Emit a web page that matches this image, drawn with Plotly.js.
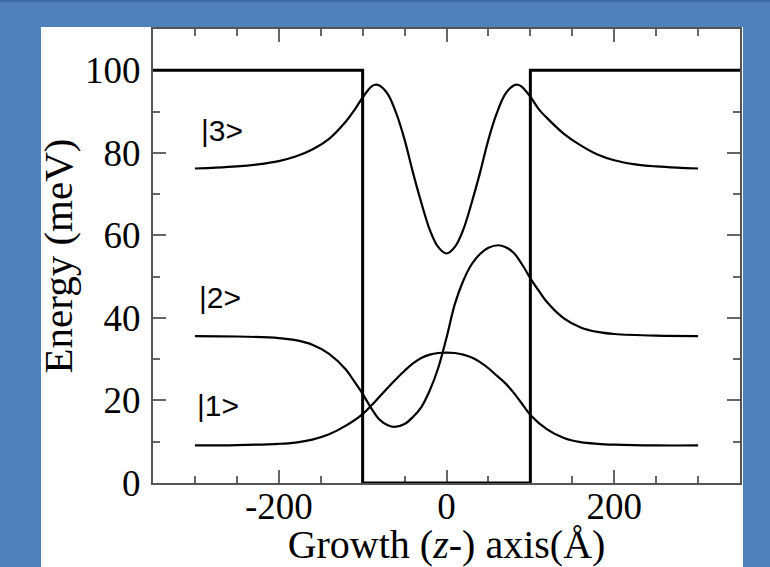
<!DOCTYPE html>
<html>
<head>
<meta charset="utf-8">
<script src="https://cdn.plot.ly/plotly-3.0.1.min.js"></script>
<style>html,body{margin:0;padding:0;}#chart{width:770px;height:567px;}</style>
</head>
<body>
<div id="chart"></div>
<script>
// Potential profile (meV)
const xPot = [-350, -100, -100, 100, 100, 350];
const yPot = [100, 100, 0, 0, 100, 100];

// |1> state
const x1 = [-300,-250,-200,-180,-160,-140,-120,-100,-90,-80,-70,-60,-50,-40,-30,-20,-10,0,10,20,30,40,50,60,70,80,90,100,120,140,160,180,200,250,300];
const y1 = [9.1,9.2,9.5,9.8,10.5,11.8,13.9,16.7,18.7,20.9,23.1,25.2,27.2,29.0,30.3,31.1,31.5,31.6,31.5,31.1,30.4,29.3,27.8,26.0,24.2,21.9,19.2,16.5,13.0,10.9,9.9,9.5,9.3,9.1,9.1];

// |2> state
const x2 = [-300,-250,-200,-180,-160,-140,-120,-110,-100,-90,-80,-70,-62,-50,-40,-30,-20,-10,0,10,20,30,40,50,62,70,80,90,100,110,120,140,160,180,200,250,300];
const y2 = [35.6,35.5,35.1,34.6,33.5,31.3,27.5,24.6,21.6,18.2,15.4,14.0,13.6,14.3,16.0,18.4,22.4,27.8,35.2,43.4,49.0,53.0,55.5,57.0,57.6,57.2,55.8,53.0,49.6,46.6,43.8,39.9,37.7,36.6,36.1,35.7,35.6];

// |3> state
const x3 = [-300,-275,-250,-225,-200,-180,-160,-140,-120,-110,-100,-90,-85,-80,-70,-60,-50,-40,-30,-20,-10,0,10,20,30,40,50,60,70,80,85,90,100,110,120,140,160,180,200,225,250,275,300];
const y3 = [76.2,76.4,76.7,77.2,78.0,79.1,80.8,83.4,87.6,90.3,93.4,96.0,96.5,96.3,94.2,89.6,83.2,75.2,67.9,61.4,57.2,55.6,57.2,61.4,67.9,75.2,83.2,89.6,94.2,96.3,96.5,96.0,93.6,90.6,88.4,84.6,81.8,79.6,78.2,77.2,76.7,76.4,76.2];

// Tick labels
const xTickVals = [-200, 0, 200];
const xTickText = ['-200', '0', '200'];

// State labels
const labelText = ['|3>', '|2>', '|1>'];
const labelX = [-295, -297, -300];
const labelY = [85.5, 45, 18.8];

const curveLine = {color: '#000', width: 2.2, shape: 'spline', smoothing: 1};
const traces = [
  {x: xPot, y: yPot, mode: 'lines', line: {color: '#000', width: 3}, hoverinfo: 'skip'},
  {x: x1, y: y1, mode: 'lines', line: curveLine, name: '|1>'},
  {x: x2, y: y2, mode: 'lines', line: curveLine, name: '|2>'},
  {x: x3, y: y3, mode: 'lines', line: curveLine, name: '|3>'}
];

const serif = 'Liberation Serif, Times New Roman, serif';
const axisCommon = {
  showgrid: false, zeroline: false, layer: 'below traces',
  showline: true, linecolor: '#555', linewidth: 2, mirror: 'allticks',
  ticks: 'inside', ticklen: 13, tickwidth: 2, tickcolor: '#666',
  tickfont: {family: serif, size: 37, color: '#000'}
};

const layout = {
  width: 770, height: 567,
  margin: {l: 153, r: 30, t: 29, b: 84},
  paper_bgcolor: '#4f81bd',
  plot_bgcolor: '#ffffff',
  showlegend: false,
  xaxis: Object.assign({}, axisCommon, {
    range: [-350, 350], tickmode: 'array', tickvals: xTickVals, ticktext: xTickText,
    minor: {tickmode: 'linear', tick0: 0, dtick: 50, ticks: 'inside', ticklen: 7, tickwidth: 2, tickcolor: '#666', showgrid: false},
    ticklabelstandoff: -10,
    title: {text: 'Growth (<i>z</i>-) axis(Å)', font: {family: serif, size: 40, color: '#000'}, standoff: 0}
  }),
  yaxis: Object.assign({}, axisCommon, {
    range: [0, 110], tick0: 0, dtick: 20,
    minor: {dtick: 10, ticks: 'inside', ticklen: 7, tickwidth: 2, tickcolor: '#666', showgrid: false},
    ticklabelstandoff: 3,
    title: {text: 'Energy (meV)', font: {family: serif, size: 41, color: '#000'}, standoff: 0}
  }),
  shapes: [
    {type: 'rect', xref: 'paper', yref: 'paper', x0: -0.1908, x1: 1.0051, y0: -0.19, y1: 1.0044,
     fillcolor: '#ffffff', line: {width: 0}, layer: 'below'},
    {type: 'rect', xref: 'paper', yref: 'paper', x0: -0.3, x1: 1.1, y0: 1.0595, y1: 1.07,
     fillcolor: '#3d6aa0', line: {width: 0}, layer: 'below'}
  ],
  annotations: labelText.map((t, i) => ({
    text: t, x: labelX[i], y: labelY[i], xref: 'x', yref: 'y',
    xanchor: 'left', yanchor: 'middle', showarrow: false,
    font: {family: 'Liberation Sans, Arial, sans-serif', size: 30, color: '#000'}
  }))
};

Plotly.newPlot('chart', traces, layout, {displayModeBar: false, staticPlot: true});
</script>
</body>
</html>
